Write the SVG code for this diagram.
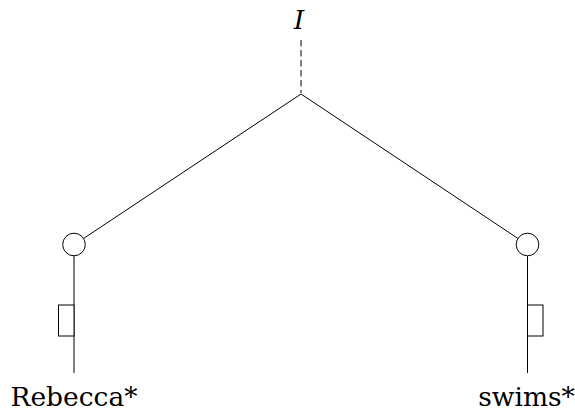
<svg xmlns="http://www.w3.org/2000/svg" width="575" height="413" viewBox="0 0 575 413">
<style>
.ln{stroke:#000;stroke-width:1;fill:none}
.nd{stroke:#000;stroke-width:1;fill:#fff}
text{font-family:'DejaVu Serif',serif;font-size:26.5px;fill:#000;text-anchor:middle}
</style>
<rect width="575" height="413" fill="#fff"/>
<g id="connectors">
<line class="ln" x1="301" y1="40" x2="301" y2="93" stroke-dasharray="6.5 3.5"/>
<line class="ln" x1="301" y1="94" x2="83.5" y2="238.5"/>
<line class="ln" x1="301" y1="94" x2="518" y2="238.5"/>
<line class="ln" x1="74" y1="256" x2="74" y2="373"/>
<line class="ln" x1="527.5" y1="256" x2="527.5" y2="373"/>
</g>
<g id="root"><text x="299" y="29" font-style="italic" font-size="31">I</text></g>
<g id="left-node"><circle class="nd" cx="74" cy="244.5" r="11.3"/></g>
<g id="left-box"><rect class="nd" x="58.5" y="305" width="15.5" height="31"/></g>
<g id="right-node"><circle class="nd" cx="527.5" cy="244.5" r="11.3"/></g>
<g id="right-box"><rect class="nd" x="527.5" y="305" width="15.5" height="31"/></g>
<g id="left-leaf"><text x="74" y="406">Rebecca*</text></g>
<g id="right-leaf"><text x="526.5" y="406">swims*</text></g>
</svg>
